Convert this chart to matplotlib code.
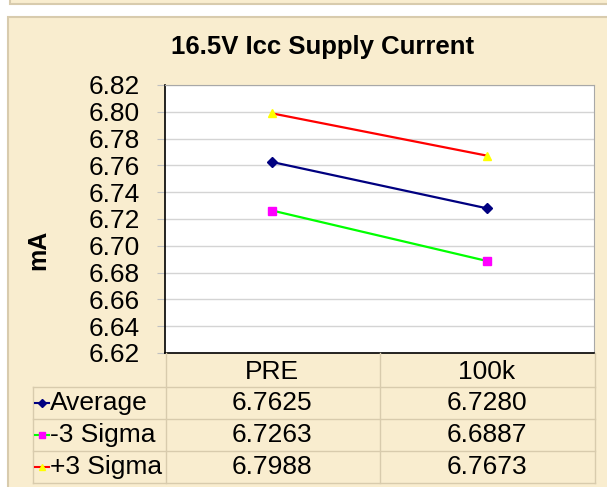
import matplotlib
matplotlib.use('Agg')
import matplotlib.pyplot as plt
from matplotlib.lines import Line2D
from matplotlib.patches import Rectangle
import matplotlib.transforms as mtransforms

plt.rcParams['font.family'] = ['Liberation Sans', 'DejaVu Sans']

# Data
categories = ['PRE', '100k']
series_names = ['Average', '-3 Sigma', '+3 Sigma']
average = [6.7625, 6.7280]
minus_3sigma = [6.7263, 6.6887]
plus_3sigma = [6.7988, 6.7673]
y_ticks = [6.62, 6.64, 6.66, 6.68, 6.70, 6.72, 6.74, 6.76, 6.78, 6.80, 6.82]

# Styles per series: (line colour, marker, marker colour)
styles = [('#000080', 'D', '#000080'),
          ('#00ff00', 's', '#ff00ff'),
          ('#ff0000', '^', '#ffff00')]

W, H = 607, 487
PARCH = '#f9edcf'
TAN = '#d8cbad'
FS = 19


def fx(x):
    return x / W


def fy(y):
    return 1 - y / H


fig = plt.figure(figsize=(W / 100, H / 100), dpi=100)
fig.patch.set_facecolor('white')

# top strip and main panel
fig.add_artist(Rectangle((fx(10), fy(4)), fx(620), fy(-10) - fy(4), transform=fig.transFigure,
                         facecolor=PARCH, edgecolor=TAN, lw=1.5, zorder=-5))
fig.add_artist(Rectangle((fx(8), fy(500)), fx(620), fy(17) - fy(500), transform=fig.transFigure,
                         facecolor=PARCH, edgecolor=TAN, lw=1.5, zorder=-5))

ax = fig.add_axes([fx(165), fy(353), fx(594 - 165), fy(85) - fy(353)])
ax.set_facecolor('white')

x = list(range(len(categories)))
all_series = [average, minus_3sigma, plus_3sigma]
for vals, (lc, mk, mc) in zip(all_series, styles):
    ax.plot(x, vals, color=lc, lw=1.6, marker=mk, markersize=5 if mk == 'D' else 6,
            markerfacecolor=mc, markeredgecolor=mc, zorder=3)

ax.set_xlim(-0.5, len(categories) - 0.5)
ax.set_ylim(y_ticks[0], y_ticks[-1])
ax.set_yticks(y_ticks)
ax.set_yticklabels([f'{t:.2f}' for t in y_ticks], fontsize=FS)
ax.set_xticks([])
ax.grid(axis='y', color='#d4d4d4', lw=1)
ax.set_axisbelow(True)
ax.tick_params(axis='y', length=6, color='#c0c0c0', pad=12)
ax.spines['left'].set_color('black')
ax.spines['bottom'].set_color('black')
ax.spines['left'].set_linewidth(1.2)
ax.spines['bottom'].set_linewidth(1.2)
ax.spines['top'].set_color('#a8a8a8')
ax.spines['right'].set_color('#a8a8a8')

fig.text(fx(323), fy(47), '16.5V Icc Supply Current', ha='center', va='center',
         fontsize=18.5, fontweight='bold')
fig.text(fx(38), fy(250), 'mA', ha='center', va='center', rotation=90,
         fontsize=18, fontweight='bold')

# data table under the chart
tr = mtransforms.blended_transform_factory(ax.transData, fig.transFigure)
row_lines = [387, 419, 451, 483]
row_centers = [403, 435, 467]
for yl in row_lines:
    fig.add_artist(Line2D([fx(33), fx(595)], [fy(yl), fy(yl)], color=TAN, lw=1))
fig.add_artist(Line2D([fx(33), fx(33)], [fy(387), fy(483)], color=TAN, lw=1))
for xl in [166, 380, 595]:
    fig.add_artist(Line2D([fx(xl), fx(xl)], [fy(353), fy(483)], color=TAN, lw=1))

for i, cat in enumerate(categories):
    fig.text(i, fy(372), cat, transform=tr, ha='center', va='center', fontsize=FS)

for r, (name, vals, (lc, mk, mc)) in enumerate(zip(series_names, all_series, styles)):
    yc = fy(row_centers[r])
    fig.add_artist(Line2D([fx(35), fx(49)], [yc, yc], color=lc, lw=1.5))
    fig.add_artist(Line2D([fx(42)], [yc], marker=mk, markersize=4 if mk == 'D' else 5,
                          color=mc, markeredgecolor=mc))
    fig.text(fx(50), yc, name, ha='left', va='center', fontsize=FS)
    for i, v in enumerate(vals):
        fig.text(i, yc, f'{v:.4f}', transform=tr, ha='center', va='center', fontsize=FS)

fig.savefig('out.png', dpi=100, facecolor=fig.get_facecolor())
